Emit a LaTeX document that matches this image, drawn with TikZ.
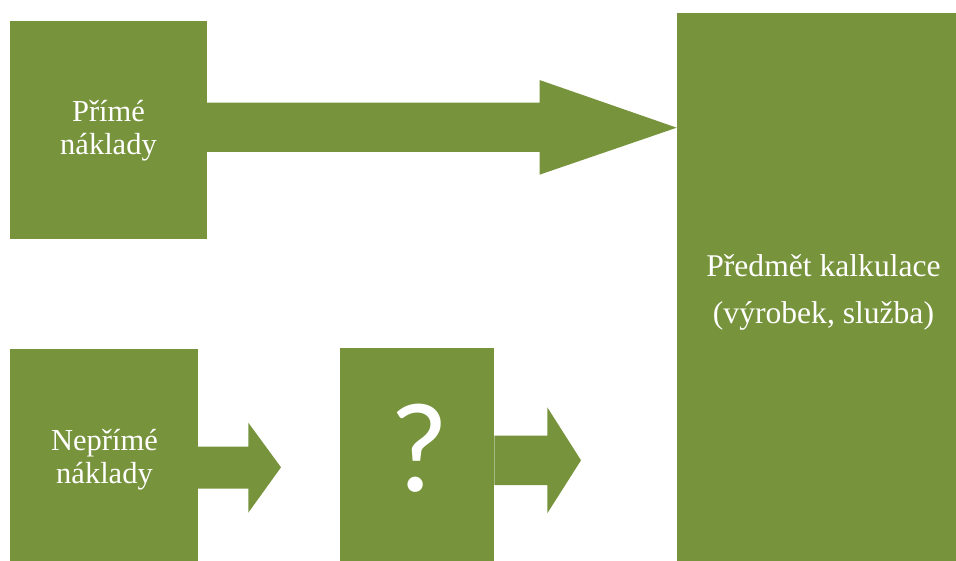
\documentclass[tikz,border=0pt]{standalone}
\usepackage{fontspec}
\setmainfont{Liberation Serif}
\newfontfamily\tnr{Liberation Serif}
\newfontfamily\qfont{Carlito}
\definecolor{olivebox}{RGB}{119,147,60}
\begin{document}
\begin{tikzpicture}[x=1pt,y=-1pt,
  box/.style={fill=olivebox, draw=none, inner sep=0pt, outer sep=0pt, anchor=north west},
  arr/.style={fill=olivebox, draw=none},
  lbl/.style={text=white, inner sep=0pt, align=center, anchor=base,
              font=\tnr\fontsize{30.5}{33}\selectfont},
  biglbl/.style={text=white, inner sep=0pt, align=center, anchor=base,
              font=\tnr\fontsize{31.6}{46.5}\selectfont}]
\useasboundingbox (0,0) rectangle (956,561);
\clip (0,0) rectangle (956,561);
% boxes
\node[box, minimum width=196.4pt, minimum height=218pt] (p) at (10.3,20.7) {};
\node[box, minimum width=187.7pt, minimum height=215pt] (n) at (10.3,349.3) {};
\node[box, minimum width=154.3pt, minimum height=216pt] (q) at (340,347.7) {};
\node[box, minimum width=300pt, minimum height=552pt] (r) at (676.7,13.3) {};
% arrows
\fill[arr] (p.east |- 0,102.7) -- (539.5,102.7) -- (539.5,80) -- (r.west |- 0,127.7)
  -- (539.5,174.7) -- (539.5,152) -- (p.east |- 0,152) -- cycle;
\fill[arr] (n.east |- 0,446.7) -- (248.3,446.7) -- (248.3,422.7) -- (281,467.3) coordinate (t2)
  -- (248.3,512.7) -- (248.3,488.7) -- (n.east |- 0,488.7) -- cycle;
\fill[arr] (q.east |- 0,435.7) -- (547.3,435.7) -- (547.3,407.3) -- (581,460.3) coordinate (t3)
  -- (547.3,513.3) -- (547.3,485) -- (q.east |- 0,485) -- cycle;
% texts (base anchor = baseline of the last line)
\node[lbl] (pt) at (108.5,154.3) {Přímé\\náklady};
\node[lbl] (nt) at (104.5,483) {Nepřímé\\náklady};
\node[text=white, inner sep=0pt, anchor=base, font=\qfont\fontsize{128}{128}\selectfont] (qt) at (418.8,491.7) {?};
\node[biglbl] (rt) at (823.5,323.3) {Předmět kalkulace\\(výrobek, služba)};
\end{tikzpicture}
\end{document}
